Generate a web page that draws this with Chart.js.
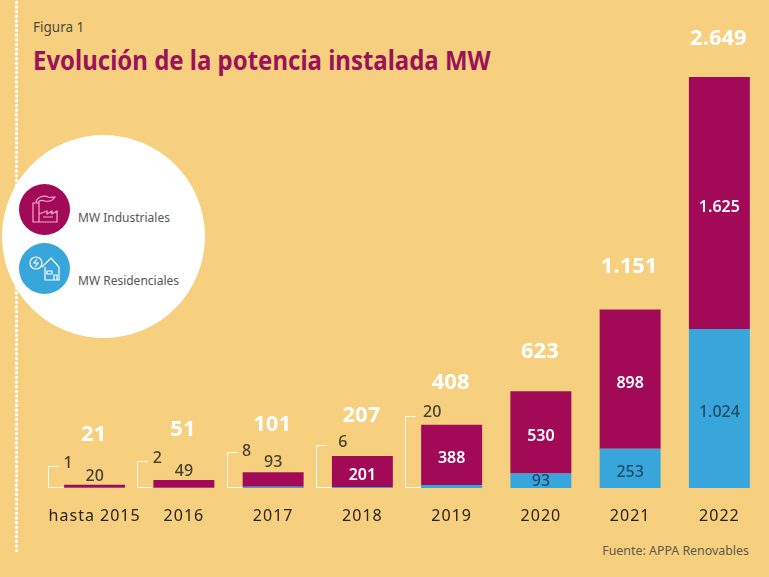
<!DOCTYPE html>
<html lang="es">
<head>
<meta charset="utf-8">
<title>Evolución de la potencia instalada MW</title>
<script src="https://cdn.jsdelivr.net/npm/chart.js@4/dist/chart.umd.min.js"></script>
<style>
html,body{margin:0;padding:0;}
body{width:769px;height:577px;background:#f6d07f;position:relative;overflow:hidden;font-family:"Noto Sans",sans-serif;}
#dots{position:absolute;left:14px;top:0;width:5px;height:552px;background:radial-gradient(circle at 2.5px 2.35px,#fff 1.5px,rgba(255,255,255,0) 2px) 0 0/5px 4.7px repeat-y;}
#fig{position:absolute;left:33px;top:17px;font-size:13.5px;line-height:20px;color:#4f4a3c;}
#title{position:absolute;left:33px;top:42px;font-size:26px;line-height:36px;font-weight:700;color:#9c1258;white-space:nowrap;transform:scaleX(.922);transform-origin:0 0;}
#blob{position:absolute;left:2px;top:135px;width:203px;height:203px;border-radius:50%;background:#fff;}
.key{position:absolute;left:19px;width:51px;height:51px;border-radius:50%;}
.key svg{position:absolute;left:0;top:0;}
.keytxt{position:absolute;left:78px;font-size:12px;line-height:16px;color:#55565a;white-space:nowrap;}
#src{position:absolute;right:20px;top:543px;font-size:12.4px;line-height:16px;color:#5d5a4e;}
canvas{position:absolute;left:0;top:0;}
</style>
</head>
<body>
<div id="dots"></div>
<div id="fig">Figura 1</div>
<div id="title">Evolución de la potencia instalada MW</div>
<div id="blob"></div>
<div class="key" style="top:184px;background:#a20a58">
<svg width="51" height="51" fill="none" stroke="#f5a9cf" stroke-width="1.2">
<path d="M14 38V19h6v19zM20 38h18V27l-5 3v-3l-5 3v-3l-8 3M24 33h10M17 19c0-6 8-8 12-6 3 1 5 0 7 0-2 3-6 5-10 4-3-1-6-1-7 2"/>
</svg></div>
<div class="keytxt" style="top:210px">MW Industriales</div>
<div class="key" style="top:243px;background:#38a6da">
<svg width="51" height="51" fill="none" stroke="#fff" stroke-width="1.2">
<circle cx="17" cy="20" r="6"/><path d="M18 16l-3 4h4l-3 4M23 24l9-9 8 9M26 24v13h14V24M28 28h5v3h-5zM35 37v-5h3v5"/>
</svg></div>
<div class="keytxt" style="top:273px">MW Residenciales</div>
<div id="src">Fuente: APPA Renovables</div>
<canvas id="chart" width="769" height="577"></canvas>
<script>
const years=["hasta 2015","2016","2017","2018","2019","2020","2021","2022"];
const residenciales=[1,2,8,6,20,93,253,1024];
const industriales=[20,49,93,201,388,530,898,1625];
const totales=[21,51,101,207,408,623,1151,2649];

// hand placed offsets, the source chart does not line these up
const totalLift=[50,50,48,40,42,40,43,38];
const bracketTop=[21,26,35,42,71];
const bracketLabelDy=[25,30,37,46,76];
const bracketLabelDx=[4,4,4,11,11];
const smallLabelLift=[8,9,10];

const crimson="#a20a58";
const blue="#38a6da";
const darkText="#4a4030";
const blueText="#1f4a6b";

function fmt(n){
return String(n).replace(/\B(?=(\d{3})+$)/g,".");
}

const labelsPlugin={
id:"labels",
beforeDraw(chart){
chart.ctx.letterSpacing="1px";
},
afterDatasetsDraw(chart){
const ctx=chart.ctx;
const x=chart.scales.x;
const y=chart.scales.y;
const base=y.getPixelForValue(0);
const barLeft=chart.getDatasetMeta(0).data.map(b=>b.x-b.width/2);

ctx.save();
ctx.letterSpacing="0px";
ctx.textAlign="center";
ctx.textBaseline="middle";

// brackets for the tiny residential values
ctx.strokeStyle="rgba(255,255,255,.9)";
ctx.lineWidth=1;
bracketTop.forEach((h,i)=>{
let l=Math.round(barLeft[i])-15.5;
let t=Math.round(base-h)-0.5;
ctx.beginPath();
ctx.moveTo(l+10,t);
ctx.lineTo(l,t);
ctx.lineTo(l,base-0.5);
ctx.lineTo(l+15,base-0.5);
ctx.stroke();
ctx.font="500 16px 'Noto Sans'";
ctx.fillStyle=darkText;
ctx.fillText(fmt(residenciales[i]),barLeft[i]+bracketLabelDx[i],base-bracketLabelDy[i]);
});

years.forEach((yr,i)=>{
let cx=x.getPixelForValue(i);
let top=y.getPixelForValue(totales[i]);

// total on top of the stack
ctx.font="700 22px 'Noto Sans'";
ctx.fillStyle="#fff";
ctx.fillText(fmt(totales[i]),cx-1,top-totalLift[i]);

// industrial
let iTop=y.getPixelForValue(residenciales[i]+industriales[i]);
let iBot=y.getPixelForValue(residenciales[i]);
if(i<3){
ctx.font="500 16px 'Noto Sans'";
ctx.fillStyle=darkText;
ctx.fillText(fmt(industriales[i]),cx,iTop-smallLabelLift[i]);
}else{
ctx.font="600 16px 'Noto Sans'";
ctx.fillStyle="#fff";
ctx.fillText(fmt(industriales[i]),cx,(iTop+iBot)/2+4);
}

// residential, only where the segment is big enough
if(i>4){
ctx.font="500 16px 'Noto Sans'";
ctx.fillStyle=blueText;
ctx.fillText(fmt(residenciales[i]),cx,i==5?iBot+8:(iBot+base)/2+4);
}
});
ctx.restore();
},
afterDraw(chart){
chart.ctx.letterSpacing="0px";
}
};

new Chart(document.getElementById("chart"),{
type:"bar",
data:{
labels:years,
datasets:[
{label:"MW Residenciales",data:residenciales,backgroundColor:blue,stack:"a"},
{label:"MW Industriales",data:industriales,backgroundColor:crimson,stack:"a"}
]
},
options:{
responsive:false,
animation:false,
layout:{padding:{left:50,right:5,top:77,bottom:49}},
plugins:{legend:{display:false},title:{display:false},tooltip:{enabled:false}},
datasets:{bar:{categoryPercentage:1,barPercentage:0.683}},
scales:{
x:{
stacked:true,
grid:{display:false},
border:{display:false},
afterFit(s){s.height=40;},
ticks:{color:"#2a2216",font:{family:"Noto Sans",size:16},padding:11,maxRotation:0,autoSkip:false}
},
y:{
stacked:true,
display:false,
min:0,
max:Math.max(...totales)
}
}
},
plugins:[labelsPlugin]
});
</script>
</body>
</html>
